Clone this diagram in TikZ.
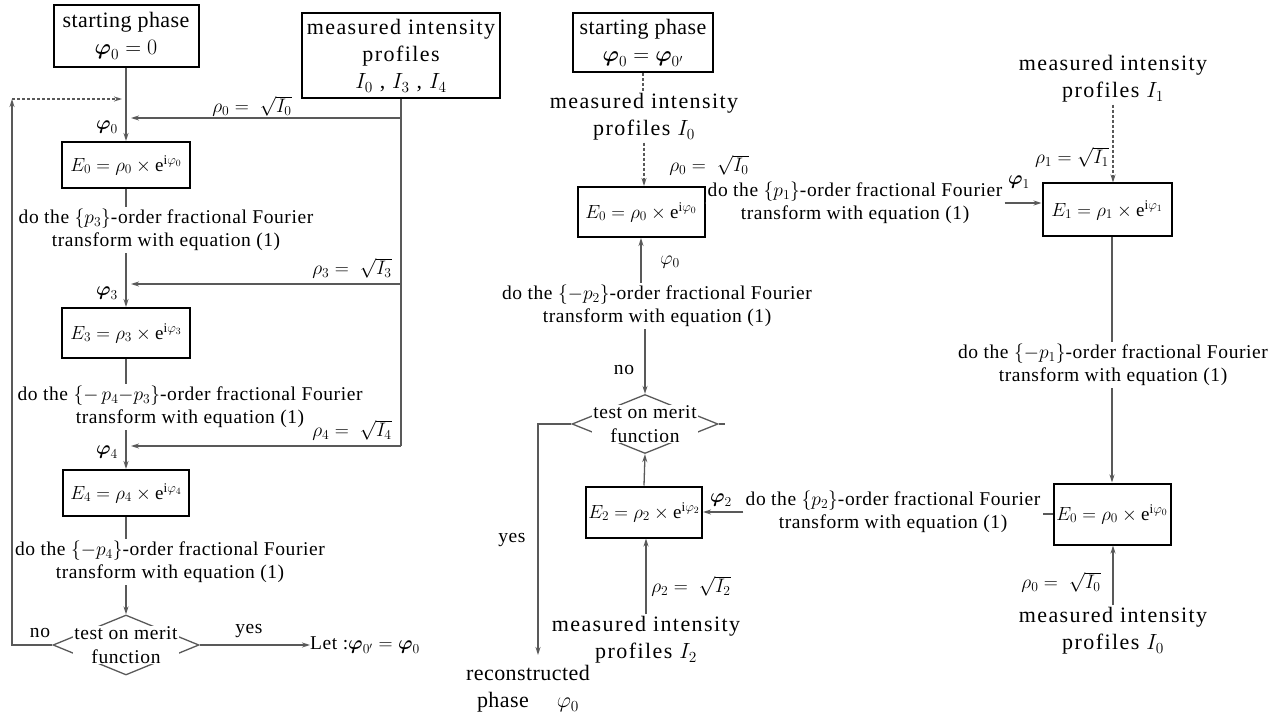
\RequirePackage{fix-cm}
\documentclass[tikz,border=0pt]{standalone}
\usepackage{amsmath}
\usepackage{fontspec}
\setmainfont{Liberation Serif}
\usetikzlibrary{shapes.geometric,arrows.meta,calc}

\definecolor{linegray}{gray}{0.35}
\newcommand{\smalltxt}{\fontsize{19}{23.5}\selectfont}
\newcommand{\steptxt}{\fontsize{19.5}{23.5}\selectfont\addfontfeature{LetterSpace=3}}
\newcommand{\bigtxt}{\fontsize{22}{27}\selectfont\addfontfeature{LetterSpace=2}}
\newcommand{\meastxt}{\fontsize{22}{27}\selectfont\addfontfeature{LetterSpace=6.5}}
\newcommand{\ph}{\boldsymbol{\varphi}}

\tikzset{
  phasebox/.style={draw=black, line width=2pt, align=center, inner sep=0pt, font=\bigtxt},
  fieldbox/.style={draw=black, line width=2pt, align=center, inner sep=0pt, font=\smalltxt},
  steptext/.style={align=center, inner sep=2pt, font=\steptxt},
  bigtext/.style={align=center, inner sep=2pt, font=\meastxt},
  labeltext/.style={inner sep=0pt, font=\steptxt},
  meritbox/.style={diamond, draw=linegray, line width=1.3pt, inner sep=0pt, minimum width=146pt, minimum height=60pt},
  merittext/.style={align=center, fill=white, inner sep=1pt, font=\steptxt},
  flow/.style={draw=linegray, line width=1.3pt},
  flowarrow/.style={flow, -{Stealth[length=8pt,width=5pt]}},
  feed/.style={flow, densely dashed},
  feedarrow/.style={feed, -{Stealth[length=8pt,width=5pt]}},
}

\begin{document}
\begin{tikzpicture}[x=1pt,y=-1pt]
\useasboundingbox (0,0) rectangle (1279,719);

% first loop
\node[phasebox, minimum width=145pt, minimum height=62pt] (start0) at (126,36) {starting phase\\$\ph_0=0$};
\node[phasebox, font=\meastxt, minimum width=198pt, minimum height=85pt] (meas0) at (401,56) {measured intensity\\profiles\\$I_0$ , $I_3$ , $I_4$};
\node[fieldbox, minimum width=128pt, minimum height=46pt] (E0) at (126,165) {$E_0=\rho_0\times\mathrm{e}^{\mathrm{i}\varphi_0}$};
\node[steptext] (frt3) at (166,230) {do the $\{p_3\}$-order fractional Fourier\\transform with equation (1)};
\node[fieldbox, minimum width=128pt, minimum height=50pt] (E3) at (126,333) {$E_3=\rho_3\times\mathrm{e}^{\mathrm{i}\varphi_3}$};
\node[steptext] (frt43) at (190,407) {do the $\{-\,p_4{-}p_3\}$-order fractional Fourier\\transform with equation (1)};
\node[fieldbox, minimum width=126pt, minimum height=46pt] (E4) at (126,493) {$E_4=\rho_4\times\mathrm{e}^{\mathrm{i}\varphi_4}$};
\node[steptext] (frt4) at (170,562) {do the $\{-p_4\}$-order fractional Fourier\\transform with equation (1)};
\node[meritbox] (test0) at (126,645) {};
\node[merittext] (test0txt) at (test0) {test on merit\\function};
\node[labeltext, anchor=west] (let0) at (310,645) {Let :$\ph_{0'}=\ph_0$};

\coordinate (tap0) at (131,118);
\coordinate (tap3) at (131,284);
\coordinate (tap4) at (131,446);
\coordinate (loop0) at (12,99);
\coordinate (loopin) at (122,99);

\draw[flowarrow] (start0.south) -- (E0.north);
\draw[flow] (meas0.south) -- (meas0.south |- tap4);
\draw[flowarrow] (meas0.south |- tap0) -- (tap0);
\draw[flowarrow] (meas0.south |- tap3) -- (tap3);
\draw[flowarrow] (meas0.south |- tap4) -- (tap4);
\draw[flow] (E0.south) -- (E0.south |- frt3.north);
\draw[flowarrow] (E0.south |- frt3.south) -- (E3.north);
\draw[flow] (E3.south) -- (E3.south |- frt43.north);
\draw[flowarrow] (E3.south |- frt43.south) -- (E4.north);
\draw[flow] (E4.south) -- (E4.south |- frt4.north);
\draw[flowarrow] (E4.south |- frt4.south) -- (test0.north);
\draw[flowarrow] (test0.east) -- (let0.west);
\draw[flowarrow] (test0.west) -| (loop0);
\draw[feedarrow] (loop0) -- (loopin);

\node[labeltext] (rho0) at (252,106) {$\rho_0=\ \sqrt{I_0}$};
\node[labeltext] (rho3) at (352,268) {$\rho_3=\ \sqrt{I_3}$};
\node[labeltext] (rho4) at (352,430) {$\rho_4=\ \sqrt{I_4}$};
\node[labeltext] (phi0) at (107,127) {$\ph_0$};
\node[labeltext] (phi3) at (107,293) {$\ph_3$};
\node[labeltext] (phi4) at (107,452) {$\ph_4$};
\node[labeltext] (no0) at (40,633) {no};
\node[labeltext] (yes0) at (249,631) {yes};

% second loop
\node[phasebox, minimum width=140pt, minimum height=59pt] (start1) at (643,43) {starting phase\\$\ph_0=\ph_{0'}$};
\node[bigtext] (meas1) at (644,117) {measured intensity\\profiles $I_0$};
\node[fieldbox, minimum width=127pt, minimum height=50pt] (E0a) at (641,212) {$E_0=\rho_0\times\mathrm{e}^{\mathrm{i}\varphi_0}$};
\node[steptext] (frt1) at (855,203) {do the $\{p_1\}$-order fractional Fourier\\transform with equation (1)};
\node[bigtext] (meas2) at (1113,79) {measured intensity\\profiles $I_1$};
\node[fieldbox, minimum width=129pt, minimum height=53pt] (E1) at (1107,210) {$E_1=\rho_1\times\mathrm{e}^{\mathrm{i}\varphi_1}$};
\node[steptext] (frtm1) at (1113,365) {do the $\{-p_1\}$-order fractional Fourier\\transform with equation (1)};
\node[fieldbox, minimum width=117pt, minimum height=61pt] (E0b) at (1112,514) {$E_0=\rho_0\times\mathrm{e}^{\mathrm{i}\varphi_0}$};
\node[bigtext] (meas4) at (1113,631) {measured intensity\\profiles $I_0$};
\node[steptext] (frt2) at (893,512) {do the $\{p_2\}$-order fractional Fourier\\transform with equation (1)};
\node[fieldbox, minimum width=116pt, minimum height=51pt] (E2) at (644,512) {$E_2=\rho_2\times\mathrm{e}^{\mathrm{i}\varphi_2}$};
\node[bigtext] (meas3) at (646,640) {measured intensity\\profiles $I_2$};
\node[steptext] (frtm2) at (657,306) {do the $\{-p_2\}$-order fractional Fourier\\transform with equation (1)};
\node[meritbox, minimum height=59pt] (test1) at (645,424) {};
\node[merittext] (test1txt) at (test1) {test on merit\\function};
\node[phasebox, draw=none] (recon) at (528,689) {reconstructed\\phase\quad\ $\varphi_0$};

\coordinate (out1) at (538,655);
\coordinate (stub1) at (725,424);

\draw[feed] (start1.south) -- (start1.south |- meas1.north);
\draw[feedarrow] (meas1.south) -- (meas1.south |- E0a.north);
\draw[flow] (E0a.east |- frt1.west) -- (frt1.west);
\draw[flowarrow] (frt1.east) -- (frt1.east -| E1.west);
\draw[feedarrow] (meas2.south) -- (meas2.south |- E1.north);
\draw[flow] (E1.south -| E0b.north) -- (frtm1.north -| E0b.north);
\draw[flowarrow] (frtm1.south -| E0b.north) -- (E0b.north);
\draw[flow] (E0b.west) -- (frt2.east |- E0b.west);
\draw[flowarrow] (frt2.west |- E2.east) -- (E2.east);
\draw[flowarrow] (meas4.north) -- (meas4.north |- E0b.south);
\draw[flowarrow] (meas3.north) -- (meas3.north |- E2.south);
\draw[flowarrow] (E2.north) -- (test1.south);
\draw[flowarrow] (E0a.south |- frtm2.north) -- (E0a.south);
\draw[flowarrow] (test1.north |- frtm2.south) -- (test1.north);
\draw[flowarrow] (test1.west) -| (out1);
\draw[flow] (test1.east) -- (stub1);

\node[labeltext] (rho0a) at (709,165) {$\rho_0=\ \sqrt{I_0}$};
\node[labeltext] (phi0a) at (670,262) {$\varphi_0$};
\node[labeltext] (no1) at (624,370) {no};
\node[labeltext] (yes1) at (512,540) {yes};
\node[labeltext] (phi1) at (1019,182) {$\ph_1$};
\node[labeltext] (rho1) at (1072,157) {$\rho_1=\sqrt{I_1}$};
\node[labeltext] (phi2) at (721,500) {$\ph_2$};
\node[labeltext] (rho2) at (691,586) {$\rho_2=\ \sqrt{I_2}$};
\node[labeltext] (rho0b) at (1061,582) {$\rho_0=\ \sqrt{I_0}$};
\end{tikzpicture}
\end{document}
